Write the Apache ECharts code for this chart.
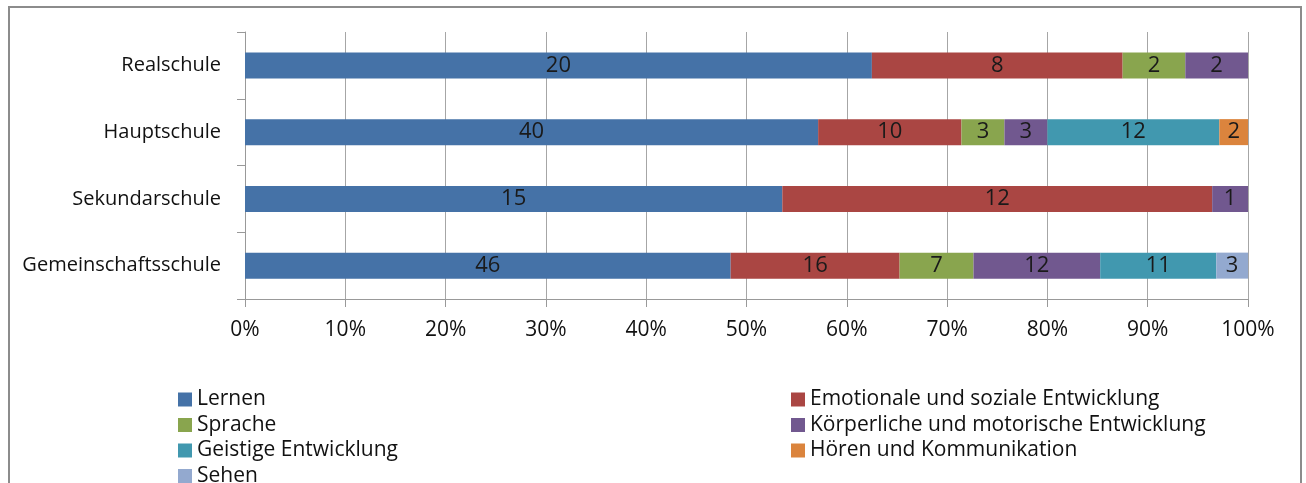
<!DOCTYPE html>
<html lang="de">
<head>
<meta charset="UTF-8">
<title>Förderschwerpunkte nach Schulform</title>
<script src="https://cdn.jsdelivr.net/npm/echarts@6/dist/echarts.min.js"></script>
<style>
  html, body { margin: 0; padding: 0; background: #fff; }
  #chart { width: 1306px; height: 483px; }
</style>
</head>
<body>
<div id="chart"></div>
<script>
  // Schulformen, von unten nach oben
  const schulen = ['Gemeinschaftsschule', 'Sekundarschule', 'Hauptschule', 'Realschule'];

  // Anzahl je Förderschwerpunkt (Reihenfolge wie schulen)
  const lernen      = [46, 15, 40, 20];
  const emotional   = [16, 12, 10, 8];
  const sprache     = [7, 0, 3, 2];
  const koerper     = [12, 1, 3, 2];
  const geistig     = [11, 0, 12, 0];
  const hoeren      = [0, 0, 2, 0];
  const sehen       = [3, 0, 0, 0];

  const xTicks = [0, 10, 20, 30, 40, 50, 60, 70, 80, 90, 100];

  const reihen = [
    { name: 'Lernen', data: lernen, color: '#4572A7' },
    { name: 'Emotionale und soziale Entwicklung', data: emotional, color: '#AA4643' },
    { name: 'Sprache', data: sprache, color: '#89A54E' },
    { name: 'Körperliche und motorische Entwicklung', data: koerper, color: '#71588F' },
    { name: 'Geistige Entwicklung', data: geistig, color: '#4198AF' },
    { name: 'Hören und Kommunikation', data: hoeren, color: '#DB843D' },
    { name: 'Sehen', data: sehen, color: '#93A9CF' }
  ];

  // Summe je Schulform für 100%-Darstellung
  const summen = schulen.map((_, i) => reihen.reduce((s, r) => s + r.data[i], 0));

  const font = 'Open Sans';

  const series = reihen.map(r => ({
    name: r.name,
    type: 'bar',
    stack: 'gesamt',
    barWidth: 26,
    itemStyle: { color: r.color },
    data: r.data.map((v, i) => ({ value: v / summen[i] * 100, anzahl: v })),
    label: {
      show: true,
      position: 'inside',
      color: '#1a1a1a',
      fontFamily: font,
      fontSize: 22,
      formatter: p => p.data.anzahl ? String(p.data.anzahl) : ''
    }
  }));

  const legendeStil = {
    orient: 'vertical', top: 389, height: 110, padding: 0,
    itemWidth: 14, itemHeight: 14, itemGap: 4.5,
    icon: 'rect',
    textStyle: { fontFamily: font, fontSize: 21, color: '#111' }
  };

  const chart = echarts.init(document.getElementById('chart'));
  chart.setOption({
    animation: false,
    backgroundColor: '#fff',
    graphic: [{
      type: 'rect',
      shape: { x: 9, y: 7, width: 1292, height: 520 },
      style: { fill: 'none', stroke: '#8c8c8c', lineWidth: 2 },
      silent: true
    }],
    grid: { left: 245, right: 58, top: 32, bottom: 184 },
    legend: [
      Object.assign({}, legendeStil, {
        left: 178,
        data: ['Lernen', 'Sprache', 'Geistige Entwicklung', 'Sehen']
      }),
      Object.assign({}, legendeStil, {
        left: 791,
        data: ['Emotionale und soziale Entwicklung', 'Körperliche und motorische Entwicklung', 'Hören und Kommunikation']
      })
    ],
    xAxis: {
      type: 'value',
      min: xTicks[0],
      max: xTicks[xTicks.length - 1],
      interval: 10,
      axisLine: { show: true, lineStyle: { color: '#999' } },
      axisTick: { show: true, length: 8, lineStyle: { color: '#999' } },
      splitLine: { show: true, lineStyle: { color: '#a6a6a6', width: 1 } },
      axisLabel: {
        margin: 21,
        fontFamily: font,
        fontSize: 21,
        color: '#111',
        formatter: '{value}%'
      }
    },
    yAxis: {
      type: 'category',
      data: schulen,
      axisLine: { show: true, lineStyle: { color: '#999' } },
      axisTick: { show: true, length: 8, lineStyle: { color: '#999' } },
      axisLabel: {
        margin: 24,
        fontFamily: font,
        fontSize: 20,
        color: '#111'
      }
    },
    series: series
  });
</script>
</body>
</html>
